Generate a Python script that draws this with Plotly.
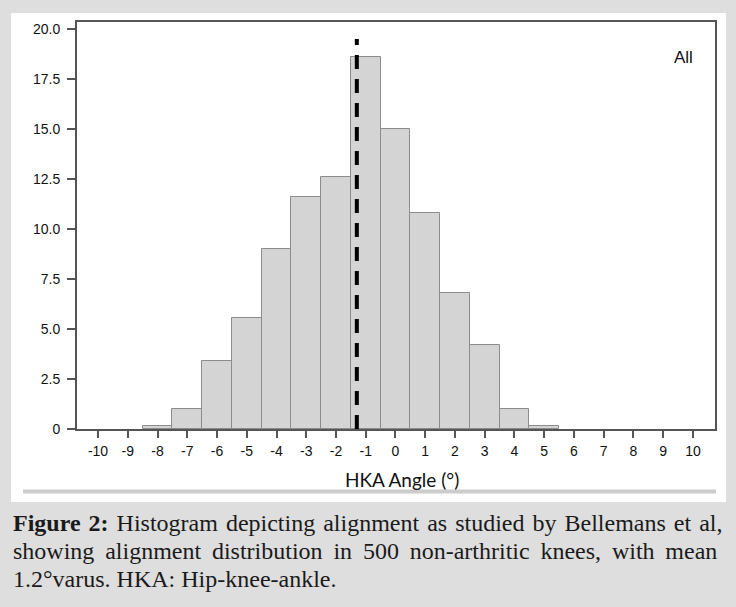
import plotly.graph_objects as go

# ---- data ----
bin_centers = [-8, -7, -6, -5, -4, -3, -2, -1, 0, 1, 2, 3, 4, 5]
percent = [0.15, 1.0, 3.4, 5.55, 9.0, 11.6, 12.6, 18.6, 15.0, 10.8, 6.8, 4.2, 1.0, 0.15]
mean_angle = -1.3
mean_line_top = 19.5
x_ticks = list(range(-10, 11))
y_ticks = [0, 2.5, 5, 7.5, 10, 12.5, 15, 17.5, 20]
y_tick_text = ["0", "2.5", "5.0", "7.5", "10.0", "12.5", "15.0", "17.5", "20.0"]
panel_label = "All"
x_title = "HKA Angle (°)"
caption_lines = [
    "<b>Figure 2:</b> Histogram depicting alignment as studied by Bellemans et al,",
    "showing alignment distribution in 500 non-arthritic knees, with mean",
    "1.2°varus. HKA: Hip-knee-ankle.",
]
# extra inter-word spacing to imitate the justified caption
caption_pads = ["\u200a", "\u2009", ""]

W, H = 736, 607
L, R, T, B = 77, 715, 22, 429
PW, PH = R - L, B - T


def px(x):
    return (x - L) / PW


def py(y):
    return (B - y) / PH


fig = go.Figure()
fig.add_trace(go.Bar(
    x=bin_centers, y=percent, width=1,
    marker=dict(color="#d4d4d4", line=dict(color="#8c8c8c", width=1)),
    hoverinfo="skip", showlegend=False,
))
fig.add_trace(go.Scatter(
    x=[mean_angle, mean_angle], y=[0, mean_line_top], mode="lines",
    line=dict(color="#000000", width=4, dash="14px,10px"),
    hoverinfo="skip", showlegend=False,
))

font_ax = dict(family="Liberation Sans, Arial, sans-serif", size=14, color="#111111")

caption_ann = []
for i, (line, pad) in enumerate(zip(caption_lines, caption_pads)):
    txt = line.replace(" ", " " + pad) if pad else line
    caption_ann.append(dict(
        text=txt, xref="paper", yref="paper", x=px(11), y=py(523 + 28 * i),
        xanchor="left", yanchor="middle", showarrow=False,
        font=dict(family="Liberation Serif, Times New Roman, serif", size=24, color="#1a1a1a")))

fig.update_layout(
    width=W, height=H,
    margin=dict(l=L, r=W - R, t=T, b=H - B, pad=0),
    paper_bgcolor="#dedede",
    plot_bgcolor="#ffffff",
    bargap=0,
    xaxis=dict(
        range=[-10.706, 10.74], tickmode="array", tickvals=x_ticks,
        ticktext=[str(v) for v in x_ticks],
        showline=True, linecolor="#555555", linewidth=2, mirror=True,
        ticks="outside", ticklen=7, tickwidth=2, tickcolor="#555555",
        showgrid=False, zeroline=False, tickfont=font_ax, ticklabelstandoff=1,
    ),
    yaxis=dict(
        range=[0, 20.35], tickmode="array", tickvals=y_ticks, ticktext=y_tick_text,
        showline=True, linecolor="#555555", linewidth=2, mirror=True,
        ticks="outside", ticklen=8, tickwidth=2, tickcolor="#555555",
        showgrid=False, zeroline=False, tickfont=font_ax, ticklabelstandoff=4,
    ),
    shapes=[
        dict(type="rect", xref="paper", yref="paper", layer="below",
             x0=px(11), x1=px(726), y0=py(502), y1=py(13),
             fillcolor="#ffffff", line=dict(width=0)),
        dict(type="rect", xref="paper", yref="paper", layer="below",
             x0=px(23), x1=px(716), y0=py(493.5), y1=py(489.5),
             fillcolor="#cccccc", line=dict(width=0)),
    ],
    annotations=[
        dict(text=panel_label, xref="paper", yref="paper", x=px(683), y=py(58),
             xanchor="center", yanchor="middle", showarrow=False,
             font=dict(family="Liberation Sans, Arial, sans-serif", size=17, color="#111111")),
        dict(text=x_title, xref="paper", yref="paper", x=px(402), y=py(479),
             xanchor="center", yanchor="middle", showarrow=False,
             font=dict(family="Lato, sans-serif", size=19, color="#111111")),
    ] + caption_ann,
)

fig.write_html(
    "out.html",
    config={"displayModeBar": False},
    post_script="document.body.style.margin='0';document.body.style.background='#dedede';",
)
